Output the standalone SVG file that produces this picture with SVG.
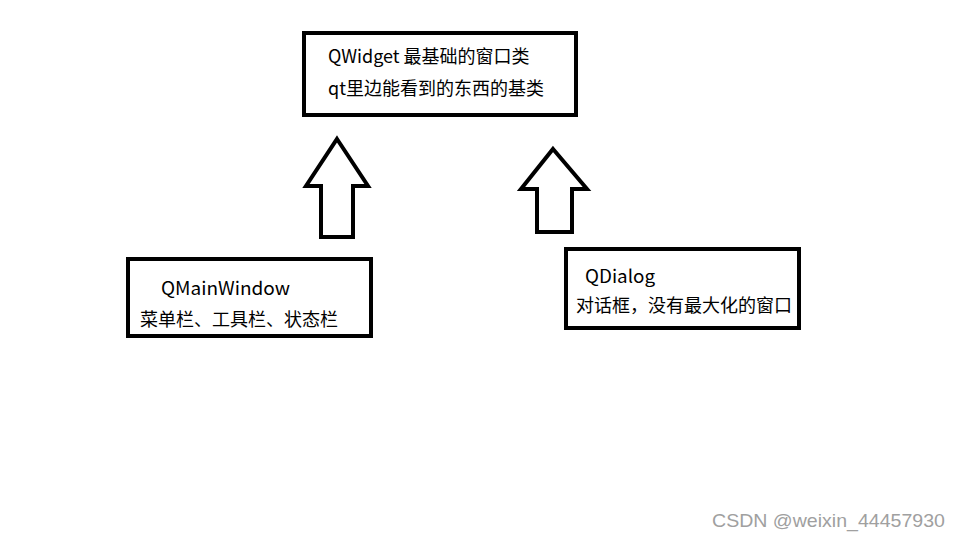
<svg xmlns="http://www.w3.org/2000/svg" width="960" height="540" viewBox="0 0 960 540">
<style>
.box{fill:#fff;stroke:#000;stroke-width:4}
.arr{fill:#fff;stroke:#000;stroke-width:4;stroke-linejoin:miter}
.t{font-family:"Noto Sans CJK SC","Liberation Sans",sans-serif;font-size:18px;fill:#000}
.wm{font-family:"Liberation Sans",Arial,sans-serif;font-size:19px;fill:#a0a0a0}
</style>
<rect width="960" height="540" fill="#fff"/>
<g id="connectors">
<polygon class="arr" points="337,139 368,186 353,186 353,237 321,237 321,186 306,186"/>
<polygon class="arr" points="553,149 587,189 572,189 572,232 537,232 537,189 521,189"/>
</g>
<g id="qwidget">
<rect class="box" x="304" y="33" width="272" height="82"/>
<text class="t" x="328" y="63">QWidget 最基础的窗口类</text>
<text class="t" x="328" y="95">qt里边能看到的东西的基类</text>
</g>
<g id="qmainwindow">
<rect class="box" x="128" y="259" width="243" height="77"/>
<text class="t" x="161" y="295" textLength="129" lengthAdjust="spacingAndGlyphs">QMainWindow</text>
<text class="t" x="140" y="326">菜单栏、工具栏、状态栏</text>
</g>
<g id="qdialog">
<rect class="box" x="566" y="249" width="233" height="79"/>
<text class="t" x="585" y="283" textLength="70" lengthAdjust="spacingAndGlyphs">QDialog</text>
<text class="t" x="576" y="312">对话框，没有最大化的窗口</text>
</g>
<text class="wm" x="712" y="527" textLength="233" lengthAdjust="spacingAndGlyphs">CSDN @weixin_44457930</text>
</svg>
